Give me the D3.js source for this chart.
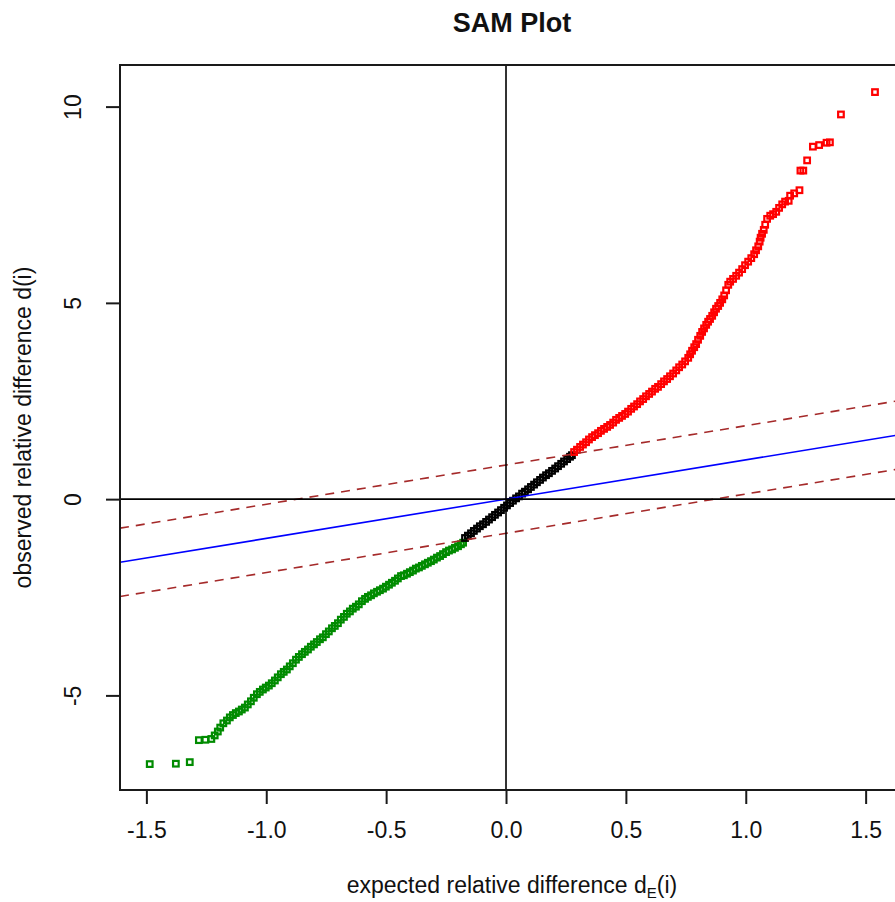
<!DOCTYPE html>
<html><head><meta charset="utf-8">
<script src="https://cdn.jsdelivr.net/npm/d3@7"></script>
<style>
body{margin:0;background:#fff;}
svg{display:block;font-family:"Liberation Sans",Arial,sans-serif;}
</style>
</head><body>
<svg id="chart" width="895" height="902"></svg>
<script>
// ---- data ----
const greenExpected = [-1.486,-1.377,-1.319,-1.281,-1.254,-1.229,-1.215,-1.202,-1.192,-1.179,
-1.164,-1.152,-1.139,-1.127,-1.114,-1.102,-1.089,-1.077,-1.064,-1.052,
-1.039,-1.027,-1.014,-1.002,-0.989,-0.977,-0.964,-0.952,-0.939,-0.927,
-0.914,-0.902,-0.889,-0.876,-0.864,-0.851,-0.839,-0.826,-0.814,-0.801,
-0.789,-0.776,-0.764,-0.751,-0.739,-0.726,-0.714,-0.701,-0.689,-0.676,
-0.664,-0.651,-0.639,-0.626,-0.614,-0.601,-0.588,-0.576,-0.563,-0.551,
-0.538,-0.526,-0.513,-0.501,-0.488,-0.476,-0.463,-0.451,-0.438,-0.426,
-0.413,-0.401,-0.388,-0.376,-0.363,-0.351,-0.338,-0.326,-0.313,-0.301,
-0.288,-0.275,-0.263,-0.250,-0.238,-0.225,-0.213,-0.200,-0.188,-0.179];
const greenObserved = [-6.75,-6.74,-6.70,-6.14,-6.13,-6.11,-6.02,-5.92,-5.82,-5.71,
-5.64,-5.56,-5.50,-5.45,-5.41,-5.36,-5.31,-5.23,-5.15,-5.06,
-4.97,-4.91,-4.85,-4.80,-4.75,-4.69,-4.62,-4.54,-4.46,-4.40,
-4.34,-4.26,-4.18,-4.09,-4.02,-3.95,-3.89,-3.83,-3.76,-3.70,
-3.64,-3.57,-3.52,-3.44,-3.37,-3.29,-3.23,-3.16,-3.07,-3.00,
-2.92,-2.86,-2.79,-2.74,-2.68,-2.60,-2.54,-2.49,-2.45,-2.40,
-2.36,-2.32,-2.28,-2.23,-2.18,-2.13,-2.08,-2.02,-1.96,-1.94,
-1.90,-1.86,-1.82,-1.77,-1.74,-1.70,-1.66,-1.62,-1.58,-1.54,
-1.49,-1.45,-1.40,-1.35,-1.31,-1.28,-1.24,-1.20,-1.15,-1.11];

const blackExpected = [-0.171,-0.159,-0.146,-0.134,-0.121,-0.109,-0.096,-0.083,-0.071,-0.058,
-0.046,-0.033,-0.021,-0.008,0.004,0.017,0.029,0.042,0.054,0.067,
0.079,0.092,0.104,0.117,0.129,0.142,0.154,0.167,0.179,0.192,
0.205,0.217,0.230,0.242,0.255,0.267,0.275];
const blackObserved = [-0.99,-0.93,-0.87,-0.81,-0.75,-0.69,-0.64,-0.58,-0.52,-0.46,
-0.40,-0.34,-0.28,-0.22,-0.16,-0.10,-0.04,0.02,0.07,0.14,
0.19,0.25,0.31,0.37,0.43,0.49,0.55,0.61,0.66,0.72,
0.78,0.84,0.90,0.96,1.02,1.08,1.12];

const redExpected = [0.284,0.296,0.309,0.321,0.334,0.346,0.359,0.371,0.384,0.396,
0.409,0.422,0.434,0.447,0.459,0.472,0.484,0.497,0.509,0.522,
0.534,0.547,0.559,0.572,0.584,0.597,0.609,0.622,0.634,0.647,
0.659,0.672,0.684,0.697,0.710,0.722,0.735,0.747,0.760,0.768,
0.776,0.785,0.793,0.801,0.810,0.818,0.826,0.835,0.843,0.851,
0.860,0.868,0.876,0.885,0.893,0.902,0.910,0.918,0.927,0.935,
0.947,0.960,0.972,0.985,0.997,1.010,1.023,1.035,1.043,1.052,
1.058,1.062,1.068,1.075,1.081,1.089,1.102,1.114,1.127,1.139,
1.152,1.164,1.179,1.185,1.202,1.224,1.228,1.240,1.256,1.280,
1.306,1.337,1.351,1.397,1.539];
const redObserved = [1.20,1.26,1.33,1.39,1.45,1.52,1.58,1.63,1.68,1.74,
1.79,1.84,1.89,1.95,2.02,2.07,2.12,2.17,2.23,2.30,
2.36,2.42,2.49,2.55,2.62,2.68,2.74,2.81,2.86,2.93,
3.00,3.06,3.13,3.20,3.28,3.36,3.43,3.51,3.60,3.69,
3.78,3.87,3.95,4.06,4.16,4.26,4.35,4.44,4.52,4.59,
4.67,4.76,4.85,4.92,5.00,5.09,5.19,5.32,5.46,5.54,
5.61,5.69,5.77,5.86,5.96,6.05,6.14,6.24,6.34,6.44,
6.56,6.66,6.76,6.86,6.99,7.14,7.22,7.26,7.32,7.42,
7.51,7.58,7.60,7.73,7.79,7.87,8.37,8.37,8.63,8.98,
9.02,9.08,9.09,9.80,10.37];

const xTicks = [-1.5,-1.0,-0.5,0.0,0.5,1.0,1.5];
const yTicks = [-5,0,5,10];
const delta = 0.87;           // half-width of the band y = x ± delta
const xDomain = [-1.61, 1.66];
const yDomain = [-7.41, 11.06];

const titleText = "SAM Plot";
const xLabelMain = "expected relative difference d";
const xLabelSub = "E";
const xLabelEnd = "(i)";
const yLabelText = "observed relative difference d(i)";

// ---- drawing ----
const svg = d3.select("#chart");
const plot = {left:120, top:65, right:904, bottom:790};
const x = d3.scaleLinear().domain(xDomain).range([plot.left, plot.right]);
const y = d3.scaleLinear().domain(yDomain).range([plot.bottom, plot.top]);

svg.append("rect").attr("width",895).attr("height",902).attr("fill","#fff");

svg.append("defs").append("clipPath").attr("id","clip")
  .append("rect").attr("x",plot.left).attr("y",plot.top)
  .attr("width",plot.right-plot.left).attr("height",plot.bottom-plot.top);

const inner = svg.append("g").attr("clip-path","url(#clip)");

const groups = [
  {ex: greenExpected, ob: greenObserved, color:"#008B00"},
  {ex: blackExpected, ob: blackObserved, color:"#000000"},
  {ex: redExpected,   ob: redObserved,   color:"#FF0000"}
];
const ms = 5.6;
groups.forEach(gr => {
  inner.append("g").selectAll("rect").data(d3.zip(gr.ex, gr.ob)).join("rect")
    .attr("x", d => x(d[0]) - ms/2)
    .attr("y", d => y(d[1]) - ms/2)
    .attr("width", ms).attr("height", ms)
    .attr("fill","none").attr("stroke", gr.color).attr("stroke-width",2.2);
});

const line = d3.line().x(d => x(d[0])).y(d => y(d[1]));
const ends = xDomain;
inner.append("path").attr("d", line(ends.map(v => [v, v])))
  .attr("stroke","#0000FF").attr("stroke-width",1.6).attr("fill","none");
[delta, -delta].forEach(dd => {
  inner.append("path").attr("d", line(ends.map(v => [v, v + dd])))
    .attr("stroke","#A52A2A").attr("stroke-width",1.6).attr("fill","none")
    .attr("stroke-dasharray","9,7");
});
inner.append("path").attr("d", line([[xDomain[0],0],[xDomain[1],0]]))
  .attr("stroke","#000").attr("stroke-width",1.6);
inner.append("path").attr("d", line([[0,yDomain[0]],[0,yDomain[1]]]))
  .attr("stroke","#000").attr("stroke-width",1.6);

// frame
svg.append("rect").attr("x",plot.left).attr("y",plot.top)
  .attr("width",plot.right-plot.left).attr("height",plot.bottom-plot.top)
  .attr("fill","none").attr("stroke","#1a1a1a").attr("stroke-width",2);

// x axis
const xAxis = svg.append("g").attr("transform",`translate(0,${plot.bottom})`)
  .call(d3.axisBottom(x).tickValues(xTicks).tickSize(14).tickSizeOuter(0)
        .tickPadding(18).tickFormat(d => d.toFixed(1)));
xAxis.select(".domain").remove();
xAxis.selectAll("line").attr("stroke","#1a1a1a").attr("stroke-width",2);
xAxis.selectAll("text").attr("font-size",23).attr("fill","#111")
  .attr("font-family","'Liberation Sans',Arial,sans-serif");

// y axis
const yAxis = svg.append("g").attr("transform",`translate(${plot.left},0)`)
  .call(d3.axisLeft(y).tickValues(yTicks).tickSize(14).tickSizeOuter(0)
        .tickFormat(d => String(d)));
yAxis.select(".domain").remove();
yAxis.selectAll("line").attr("stroke","#1a1a1a").attr("stroke-width",2);
yAxis.selectAll("text").attr("font-size",23).attr("fill","#111")
  .attr("font-family","'Liberation Sans',Arial,sans-serif")
  .attr("transform","rotate(-90)").attr("x",0).attr("y",-39).attr("dy",null)
  .attr("text-anchor","middle");

// title
svg.append("text").attr("x",(plot.left+plot.right)/2).attr("y",32)
  .attr("text-anchor","middle").attr("font-size",27).attr("font-weight","bold")
  .attr("fill","#111").text(titleText);

// x label
const xl = svg.append("text").attr("x",(plot.left+plot.right)/2).attr("y",893)
  .attr("text-anchor","middle").attr("font-size",23).attr("fill","#111");
xl.append("tspan").text(xLabelMain);
xl.append("tspan").attr("font-size",15).attr("dy",5).text(xLabelSub);
xl.append("tspan").attr("dy",-5).text(xLabelEnd);

// y label
svg.append("text").attr("transform",`translate(31,${(plot.top+plot.bottom)/2}) rotate(-90)`)
  .attr("text-anchor","middle").attr("font-size",23).attr("fill","#111").text(yLabelText);
</script>
</body></html>
